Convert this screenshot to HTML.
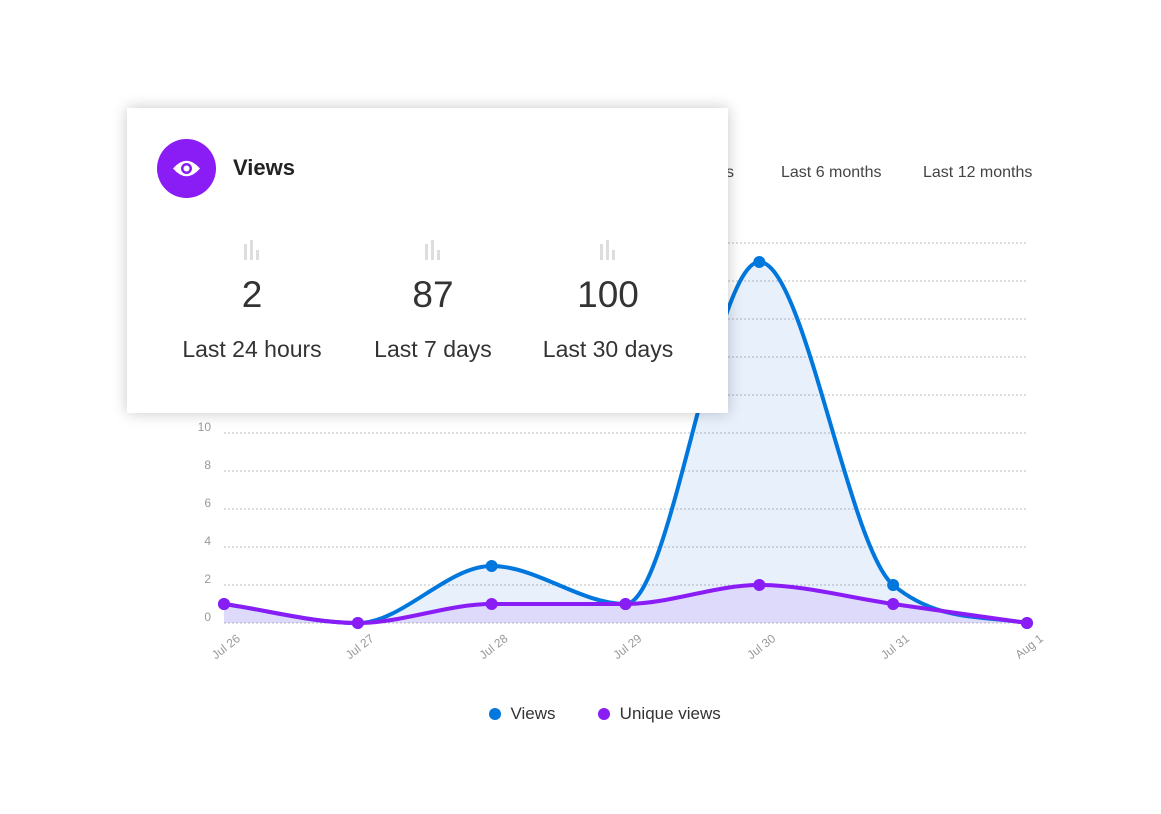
<!DOCTYPE html>
<html><head><meta charset="utf-8"><style>
body{margin:0;width:1161px;height:814px;background:#fff;font-family:"Liberation Sans",sans-serif;position:relative;overflow:hidden}
.tab{position:absolute;top:164px;font-size:16px;color:#444}
#card{position:absolute;left:127px;top:108px;width:601px;height:305px;background:#fff;box-shadow:0 0 14px rgba(0,0,0,0.22)}
.stat{position:absolute;top:0;width:180px;height:300px;text-align:center;color:#333}
.stat .n{position:absolute;top:167px;left:0;width:100%;font-size:37px;line-height:40px}
.stat .l{position:absolute;top:228px;left:-20px;width:220px;font-size:23px;line-height:26px}
.bars{position:absolute;top:132px;left:82px;width:16px;height:20px}
.bars i{position:absolute;bottom:0;width:3px;background:#ddd}
</style></head><body>
<div class="tab" style="left:718px">ys</div>
<div class="tab" style="left:781px">Last 6 months</div>
<div class="tab" style="left:923px">Last 12 months</div>
<svg id="chart" width="1161" height="814" style="position:absolute;left:0;top:0"></svg>
<div style="position:absolute;top:704px;left:489px;font-size:17px;color:#333;white-space:nowrap">
<span><span style="display:inline-block;width:12px;height:12px;border-radius:6px;background:#0077dd;vertical-align:-1px"></span>&nbsp;&nbsp;Views</span>
<span style="margin-left:38px"><span style="display:inline-block;width:12px;height:12px;border-radius:6px;background:#8a1cf5;vertical-align:-1px"></span>&nbsp;&nbsp;Unique views</span>
</div>
<div id="card">
<div style="position:absolute;left:30px;top:31px;width:59px;height:59px;border-radius:50%;background:#8a1cf5">
<svg width="59" height="59"><path d="M16 29.5 Q29.5 14 43 29.5 Q29.5 45 16 29.5Z" fill="#fff"/><circle cx="29.5" cy="29.5" r="5.5" fill="#8a1cf5"/><circle cx="29.5" cy="29.5" r="3" fill="#fff"/></svg></div>
<div style="position:absolute;left:106px;top:47px;font-size:22px;font-weight:bold;color:#222">Views</div>
<div class="stat" style="left:35px"><div class="bars"><i style="left:0;height:16px"></i><i style="left:6px;height:20px"></i><i style="left:12px;height:10px"></i></div><div class="n">2</div><div class="l">Last 24 hours</div></div>
<div class="stat" style="left:216px"><div class="bars"><i style="left:0;height:16px"></i><i style="left:6px;height:20px"></i><i style="left:12px;height:10px"></i></div><div class="n">87</div><div class="l">Last 7 days</div></div>
<div class="stat" style="left:391px"><div class="bars"><i style="left:0;height:16px"></i><i style="left:6px;height:20px"></i><i style="left:12px;height:10px"></i></div><div class="n">100</div><div class="l">Last 30 days</div></div>
</div>
<script>
const categories=["Jul 26","Jul 27","Jul 28","Jul 29","Jul 30","Jul 31","Aug 1"];
const views=[1,0,3,1,19,2,0];
const uniqueViews=[1,0,1,1,2,1,0];
const yTicks=[0,2,4,6,8,10,12,14,16,18,20];
const NS="http://www.w3.org/2000/svg";
const svg=document.getElementById('chart');
const x0=224,x1=1027,yb=623,yt=243;
const X=i=>x0+(x1-x0)*i/(categories.length-1);
const Y=v=>yb-(yb-yt)*v/20;
function mk(t,a){const e=document.createElementNS(NS,t);for(const k in a)e.setAttribute(k,a[k]);svg.appendChild(e);return e;}
yTicks.forEach(t=>{
 const g=mk('line',{x1:x0,x2:x1,y1:Y(t),y2:Y(t),stroke:'#bbb','stroke-dasharray':'2,2','stroke-width':1});
 
 
 const l=mk('text',{x:211,y:Y(t)-2,'text-anchor':'end','font-size':12,fill:'#999','font-family':'Liberation Sans'});
 l.textContent=t;
 
 
});
categories.forEach((c,i)=>{
 const l=mk('text',{x:X(i)+17,y:yb+17,'text-anchor':'end','font-size':12,fill:'#999','font-family':'Liberation Sans',transform:`rotate(-38 ${X(i)+17} ${yb+17})`});
 l.textContent=c;
 
 
});
function path(vals){
 const n=vals.length,px=vals.map((v,i)=>X(i)),py=vals.map(Y);
 const d=[],m=[];
 for(let i=0;i<n-1;i++)d.push((py[i+1]-py[i])/(px[i+1]-px[i]));
 for(let i=0;i<n;i++){
  if(i==0)m.push(d[0]);else if(i==n-1)m.push(d[n-2]);
  else m.push(d[i-1]*d[i]<=0?0:(d[i-1]+d[i])/2);
 }
 for(let i=0;i<n-1;i++){
  if(d[i]==0){m[i]=m[i+1]=0;continue;}
  const a=m[i]/d[i],b=m[i+1]/d[i],s=a*a+b*b;
  if(s>9){const t=3/Math.sqrt(s);m[i]=t*a*d[i];m[i+1]=t*b*d[i];}
 }
 let s=`M${px[0]},${py[0]}`;
 for(let i=0;i<n-1;i++){const h=(px[i+1]-px[i])/3;
  s+=` C${px[i]+h},${py[i]+m[i]*h} ${px[i+1]-h},${py[i+1]-m[i+1]*h} ${px[i+1]},${py[i+1]}`;}
 return s;
}
function series(vals,col,fill,name){
 const p=path(vals);
 const a=mk('path',{d:p+` L${X(vals.length-1)},${yb} L${x0},${yb}Z`,fill:fill});
 
 
 const l=mk('path',{d:p,fill:'none',stroke:col,'stroke-width':4});
 
 
 vals.forEach((v,i)=>{
  const c=mk('circle',{cx:X(i),cy:Y(v),r:6,fill:col});
  
  
 });
}
series(views,'#0077dd','rgba(0,90,220,0.09)','views');
series(uniqueViews,'#8a1cf5','rgba(138,28,245,0.10)','unique-views');
</script>
</body></html>
